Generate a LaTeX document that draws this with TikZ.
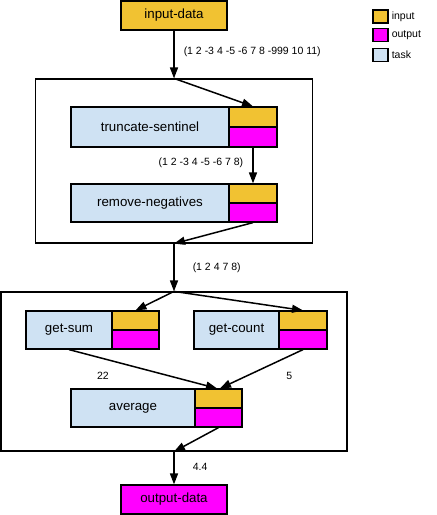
\documentclass[tikz,border=0pt]{standalone}
\usepackage{fontspec}
\setmainfont{Liberation Sans}
\usetikzlibrary{arrows.meta}

\definecolor{inyellow}{HTML}{F1C232}
\definecolor{outmagenta}{HTML}{FF00FF}
\definecolor{taskblue}{HTML}{CFE2F3}

\newcommand{\boxfont}{\fontsize{13.3}{16}\selectfont}
\newcommand{\lblfont}{\fontsize{10.5}{12}\selectfont}

\begin{document}
\begin{tikzpicture}[x=1pt,y=-1pt,
    frame/.style={draw,line width=1.2pt,inner sep=0pt},
    task/.style={draw,line width=1.2pt,fill=taskblue,inner sep=0pt,font=\boxfont},
    inport/.style={draw,line width=1.2pt,fill=inyellow,inner sep=0pt},
    outport/.style={draw,line width=1.2pt,fill=outmagenta,inner sep=0pt},
    lbl/.style={inner sep=0pt,font=\lblfont},
    flow/.style={draw,line width=1.5pt,-{Triangle[length=11pt,width=8pt]}}]

      \useasboundingbox (0,0) rectangle (437,515);

      % pipelines
      \node[frame,minimum width=277pt,minimum height=164pt] (pipe1) at (174,161) {};
      \node[frame,minimum width=346pt,minimum height=159pt] (pipe2) at (174,371.5) {};

      % data
      \node[inport,font=\boxfont,minimum width=106pt,minimum height=29pt] (indata) at (174,15.5) {input-data};
      \node[outport,font=\boxfont,minimum width=106pt,minimum height=29pt] (outdata) at (174,499.5) {output-data};

      % tasks
      \node[task,minimum width=158pt,minimum height=40pt] (trunc) at (150,127) {truncate-sentinel};
      \node[inport,minimum width=48pt,minimum height=20pt] (trunc-in) at (253,117) {};
      \node[outport,minimum width=48pt,minimum height=20pt] (trunc-out) at (253,137) {};

      \node[task,minimum width=158pt,minimum height=38pt] (rmneg) at (150,203) {remove-negatives};
      \node[inport,minimum width=48pt,minimum height=19pt] (rmneg-in) at (253,193.5) {};
      \node[outport,minimum width=48pt,minimum height=19pt] (rmneg-out) at (253,212.5) {};

      \node[task,minimum width=86pt,minimum height=38pt] (sum) at (69,330) {get-sum};
      \node[inport,minimum width=47pt,minimum height=19pt] (sum-in) at (135.5,320.5) {};
      \node[outport,minimum width=47pt,minimum height=19pt] (sum-out) at (135.5,339.5) {};

      \node[task,minimum width=85pt,minimum height=38pt] (count) at (236.5,330) {get-count};
      \node[inport,minimum width=48pt,minimum height=19pt] (count-in) at (303,320.5) {};
      \node[outport,minimum width=48pt,minimum height=19pt] (count-out) at (303,339.5) {};

      \node[task,minimum width=124pt,minimum height=38pt] (avg) at (133,408) {average};
      \node[inport,minimum width=47pt,minimum height=19pt] (avg-in) at (218.5,398.5) {};
      \node[outport,minimum width=47pt,minimum height=19pt] (avg-out) at (218.5,417.5) {};

      % legend
      \begin{scope}[every node/.style={draw,line width=1.2pt,minimum width=15pt,minimum height=13pt,inner sep=0pt}]
        \node[fill=inyellow] (key-in) at (380.5,16.5) {};
        \node[fill=outmagenta] (key-out) at (380.5,35) {};
        \node[fill=taskblue] (key-task) at (380.5,55) {};
      \end{scope}
      \begin{scope}[every node/.style={lbl,anchor=west}]
        \node at ([xshift=3pt]key-in.east) {input};
        \node at ([xshift=3pt]key-out.east) {output};
        \node at ([xshift=3pt]key-task.east) {task};
      \end{scope}

      % flows
      \path (indata) edge[flow] node[lbl,pos=.45,anchor=west,xshift=9pt] {(1 2 -3 4 -5 -6 7 8 -999 10 11)} (pipe1.north);
      \path (pipe1.north) edge[flow] (trunc-in.north);
      \path (trunc-out) edge[flow] node[lbl,pos=.43,anchor=east,xshift=-9pt] {(1 2 -3 4 -5 -6 7 8)} (rmneg-in.north);
      \path (rmneg-out.south) edge[flow] (pipe1.south);
      \path (pipe1.south) edge[flow] node[lbl,pos=.51,anchor=west,xshift=18pt] {(1 2 4 7 8)} (pipe2.north);
      \path (pipe2.north) edge[flow] (sum-in.north);
      \path (pipe2.north) edge[flow] (count-in.north);
      \path (sum.south) edge[flow] node[lbl,pos=.25,xshift=-3pt,yshift=-17pt] {22} ([xshift=-1.5pt]avg-in.north);
      \path (count-out.south) edge[flow] node[lbl,pos=.2,xshift=3pt,yshift=-19pt] {5} ([xshift=1.5pt]avg-in.north);
      \path (avg-out.south) edge[flow] (pipe2.south);
      \path (pipe2.south) edge[flow] node[lbl,pos=.47,anchor=west,xshift=18pt] {4.4} (outdata);

    \end{tikzpicture}
\end{document}
